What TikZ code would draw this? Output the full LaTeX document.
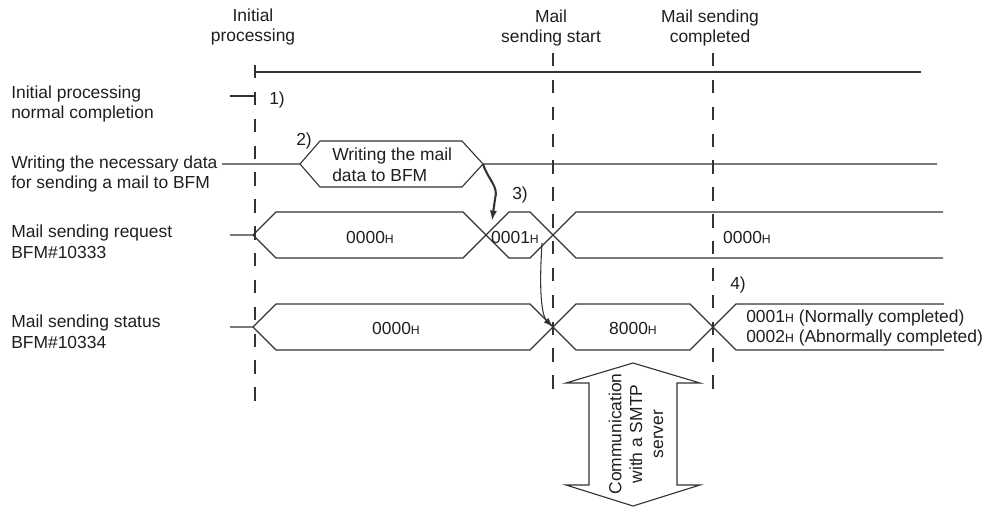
\documentclass[tikz,border=0pt]{standalone}
\usepackage{fontspec}
\setmainfont{Liberation Sans}
\usetikzlibrary{positioning,arrows.meta,calc}
\definecolor{figline}{gray}{0.2}
\definecolor{figtext}{gray}{0.12}
\newcommand{\hx}[1]{#1{\fontsize{8.7}{10}\selectfont H}}
\tikzset{
  fig/.style={font=\fontsize{12.4}{14.8}\selectfont,text=figtext},
  sig/.style={draw=figline,line width=0.8pt},
  guide/.style={draw=figline,line width=0.8pt,dash pattern=on 9.5pt off 9.6pt},
  lbl/.style={align=left,anchor=west,inner sep=0pt},
  evt/.style={align=center,inner sep=0pt},
  val/.style={inner sep=0pt},
  ln/.style={-{Latex[length=2.6mm,width=1.8mm]},line width=1.5pt,figline},
  lnthin/.style={-{Latex[length=2.4mm,width=1.6mm]},line width=0.75pt,figline},
}
\begin{document}
\begin{tikzpicture}[fig,x=0.025cm,y=-0.025cm]
\useasboundingbox (0,0) rectangle (983,507);

% timing points
\node[evt] (ini) at (253,27) {Initial\\processing};
\node[evt] (snd) at (551,28) {Mail\\sending start};
\node[evt] (cmp) at (710,28) {Mail sending\\completed};
\foreach \gx/\gy/\gz in {255/65/410,553/53/402,713/53/402}
  \draw[guide] (\gx,\gy) -- (\gx,\gz);
\draw[sig] (255,72) -- (921,72);

% signal names
\node[lbl] (l1) at (11,104) {Initial processing\\normal completion};
\node[lbl] (l2) at (11,174) {Writing the necessary data\\for sending a mail to BFM};
\node[lbl] (l3) at (11,242) {Mail sending request\\BFM\#10333};
\node[lbl] (l4) at (11,332) {Mail sending status\\BFM\#10334};

% 1) initial processing done
\draw[sig] (230,96) -- (255,96);
\node[val] (n1) at (277,100) {1)};

% 2) writing the mail data
\draw[sig] (222,164) -- (300,164) -- (320,141) -- (462,141) -- (483,164) -- (937,164);
\draw[sig] (300,164) -- (320,187) -- (462,187) -- (483,164);
\node[val] (n2) at (304,141) {2)};
\node[lbl] (wr) at (332,165) {Writing the mail\\data to BFM};

% 3) request
\draw[sig] (230,235) -- (253,235) -- (276,212) -- (463,212) -- (509,258) -- (530,258)
  -- (576,212) -- (943,212);
\draw[sig] (253,235) -- (276,258) -- (463,258) -- (509,212) -- (530,212)
  -- (576,258) -- (943,258);
\node[val] (rq0) at (370,237) {\hx{0000}};
\node[val] (rq1) at (515,237) {\hx{0001}};
\node[val] (rq2) at (747,237) {\hx{0000}};
\node[val] (n3) at (520,195) {3)};

% 4) status
\draw[sig] (230,327) -- (253,327) -- (276,304) -- (530,304) -- (576,350) -- (690,350)
  -- (736,304) -- (944,304);
\draw[sig] (253,327) -- (276,350) -- (530,350) -- (576,304) -- (690,304)
  -- (736,350) -- (944,350);
\node[val] (st0) at (396,328) {\hx{0000}};
\node[val] (st1) at (633,328) {\hx{8000}};
\node[lbl] (st2) at (746,328) {\hx{0001} (Normally completed)\\\hx{0002} (Abnormally completed)};
\node[val] (n4) at (738,285) {4)};

% triggers
\coordinate (hexR) at (483,164);
\coordinate (reqX) at (492,221);
\coordinate (reqE) at (542,243);
\coordinate (stsX) at (553,327);
\draw[ln] (hexR) .. controls (488,180) and (499,186) .. (495,199) -- (reqX);
\draw[lnthin] (reqE) .. controls (538,305) and (544,318) .. (stsX);

% SMTP communication
\draw[sig] (633,363) -- (700,383) -- (677,383) -- (677,485) -- (700,485) -- (633,506)
  -- (566,485) -- (589,485) -- (589,383) -- (566,383) -- cycle;
\node[evt,rotate=90] (com) at (636,434) {Communication\\with a SMTP\\server};
\end{tikzpicture}
\end{document}
